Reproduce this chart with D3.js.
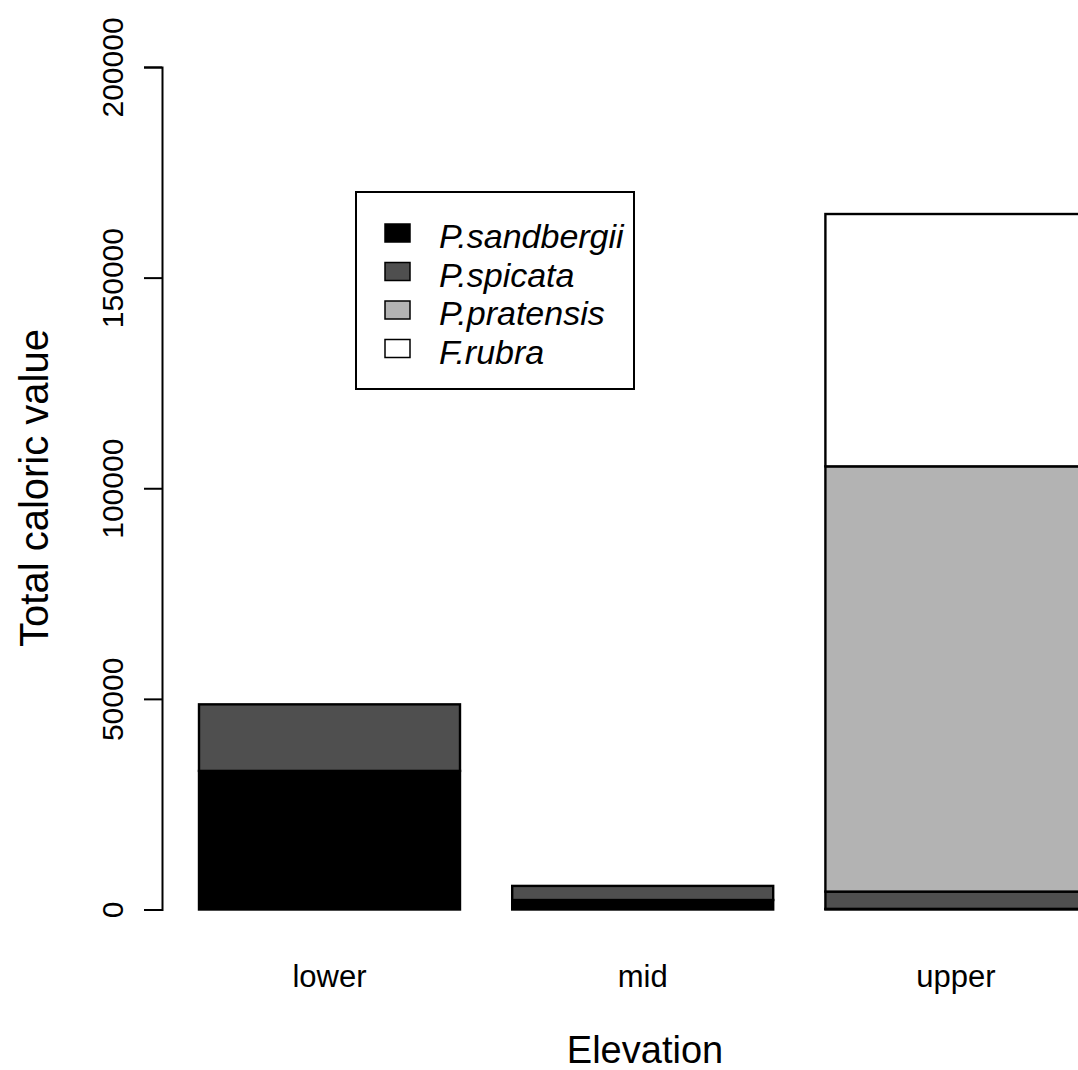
<!DOCTYPE html>
<html>
<head>
<meta charset="utf-8">
<script src="https://cdn.jsdelivr.net/npm/d3@7"></script>
<style>
  html, body { margin: 0; padding: 0; background: #fff; }
  svg { display: block; font-family: "Liberation Sans", Arial, Helvetica, sans-serif; }
</style>
</head>
<body>
<svg id="chart" width="1078" height="1070"></svg>
<script>
// Elevation zones along the x axis
const categories = ["lower", "mid", "upper"];
// Species stacked within each bar (bottom to top)
const species = ["P.sandbergii", "P.spicata", "P.pratensis", "F.rubra"];
const speciesColors = ["#000000", "#4f4f4f", "#b3b3b3", "#ffffff"];
// Total caloric value per species and zone
const sandbergii = [32900, 2250, 150];
const spicata = [15800, 3350, 4100];
const pratensis = [0, 0, 100950];
const rubra = [0, 0, 59900];
// Y-axis ticks
const yTicks = [0, 50000, 100000, 150000, 200000];

const seriesValues = [sandbergii, spicata, pratensis, rubra];
const rows = categories.map((c, i) => {
  const r = { zone: c };
  species.forEach((s, k) => { r[s] = seriesValues[k][i]; });
  return r;
});

const svg = d3.select("#chart");

const x = d3.scaleBand()
  .domain(categories)
  .range([146.8, 1138.6])
  .paddingInner(1 / 6)
  .paddingOuter(1 / 6);

const y = d3.scaleLinear()
  .domain([0, 200000])
  .range([909.5, 67]);

const stacked = d3.stack().keys(species)(rows);

// Stacked bars
const layers = svg.append("g")
  .selectAll("g")
  .data(stacked)
  .join("g")
  .attr("fill", (d, k) => speciesColors[k]);

layers.selectAll("rect")
  .data(d => d)
  .join("rect")
  .attr("x", d => x(d.data.zone))
  .attr("width", x.bandwidth())
  .attr("y", d => y(d[1]))
  .attr("height", d => y(d[0]) - y(d[1]))
  .attr("stroke", "#000")
  .attr("stroke-width", 2.4);

// Y axis (labels rotated, as in base graphics)
const yAxis = svg.append("g")
  .attr("transform", "translate(162,0)")
  .call(d3.axisLeft(y).tickValues(yTicks).tickSize(18).tickFormat(d3.format("d")));
yAxis.select(".domain").attr("stroke", "#000").attr("stroke-width", 2);
yAxis.selectAll(".tick line").attr("stroke", "#000").attr("stroke-width", 2);
yAxis.selectAll(".tick text")
  .attr("fill", "#000")
  .style("font-size", "30px")
  .attr("x", null).attr("dy", null)
  .attr("text-anchor", "middle")
  .attr("transform", "translate(-39,0) rotate(-90)");

// X category labels (no axis line)
const xAxis = svg.append("g")
  .attr("transform", "translate(0,909.5)")
  .call(d3.axisBottom(x).tickSize(0));
xAxis.select(".domain").remove();
xAxis.selectAll(".tick text")
  .attr("fill", "#000")
  .style("font-size", "31px")
  .attr("y", 0)
  .attr("dy", "77px");

// Axis titles
svg.append("text")
  .attr("x", 645).attr("y", 1063)
  .attr("text-anchor", "middle")
  .style("font-size", "38px")
  .text("Elevation");

svg.append("text")
  .attr("transform", "translate(48,488) rotate(-90)")
  .attr("text-anchor", "middle")
  .style("font-size", "40px")
  .text("Total caloric value");

// Legend
const legend = svg.append("g");
legend.append("rect")
  .attr("x", 356).attr("y", 192)
  .attr("width", 278).attr("height", 197)
  .attr("fill", "#fff").attr("stroke", "#000").attr("stroke-width", 2);

const items = legend.selectAll("g.item")
  .data(species)
  .join("g")
  .attr("class", "item")
  .attr("transform", (d, k) => `translate(0,${k * 38.5})`);

items.append("rect")
  .attr("x", 385).attr("y", 224)
  .attr("width", 25).attr("height", 18)
  .attr("fill", (d, k) => speciesColors[k])
  .attr("stroke", "#000").attr("stroke-width", 1.5);

items.append("text")
  .attr("x", 439).attr("y", 248)
  .style("font-size", "34px")
  .style("font-style", "italic")
  .text(d => d);
</script>
</body>
</html>
